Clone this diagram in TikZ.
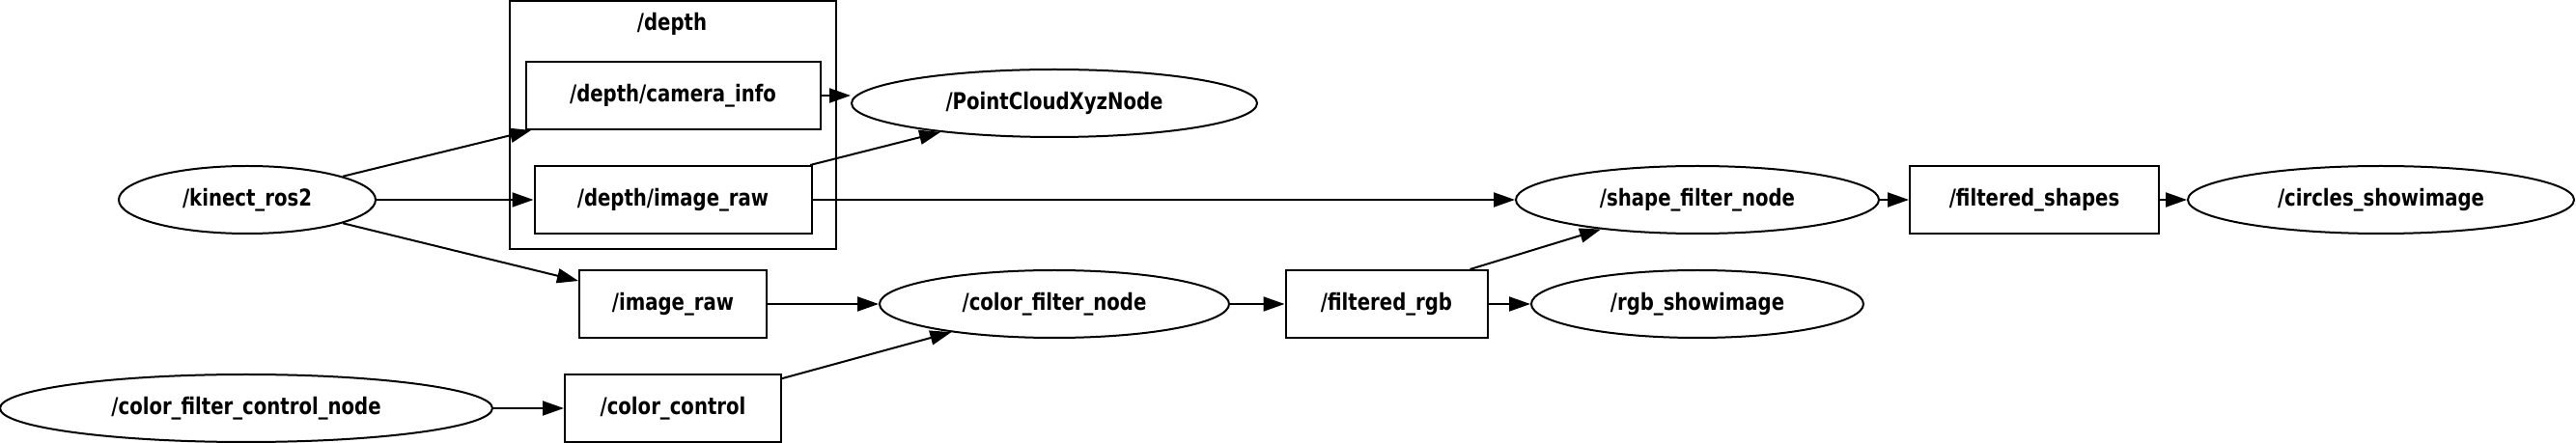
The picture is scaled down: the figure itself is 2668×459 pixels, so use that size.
\documentclass[tikz,border=0pt]{standalone}
\usepackage{fontspec}
\setmainfont{DejaVu Sans}[FakeStretch=0.82]
\usetikzlibrary{arrows.meta,shapes.geometric}

\tikzset{
  topic/.style={draw,line width=1pt,rectangle,inner sep=0pt,minimum height=35pt},
  rosnode/.style={draw,line width=1pt,ellipse,inner sep=0pt,minimum height=35pt},
  link/.style={line width=1pt,-{Triangle[length=11pt,width=7.5pt]}}
}

\begin{document}
\begin{tikzpicture}[x=0.5pt,y=-0.5pt,font=\fontsize{12}{14}\selectfont\bfseries]
\useasboundingbox (0,0) rectangle (2668,459);
% --- /depth cluster ---
\draw[line width=1pt] (528,1) rectangle (866,258);
\node (depthlbl) at (696,25) {/depth};
\node[topic,minimum width=152.5pt] (depthinfo) at (697,99) {/depth/camera\_info};
\node[topic,minimum width=143.5pt] (depthraw) at (697,207) {/depth/image\_raw};
% --- sources ---
\node[rosnode,minimum width=133pt] (kinect) at (256,207) {/kinect\_ros2};
\node[rosnode,minimum width=255pt] (ctlnode) at (255,423) {/color\_filter\_control\_node};
\node[topic,minimum width=97pt] (imageraw) at (697,315) {/image\_raw};
\node[topic,minimum width=112pt] (colorctl) at (697,423) {/color\_control};
% --- middle ---
\node[rosnode,minimum width=210pt] (pcxyz) at (1092,107) {/PointCloudXyzNode};
\node[rosnode,minimum width=181pt] (colorfilter) at (1092,315) {/color\_filter\_node};
\node[topic,minimum width=104.5pt] (filteredrgb) at (1436,315) {/filtered\_rgb};
% --- right ---
\node[rosnode,minimum width=188pt] (shapefilter) at (1758,207) {/shape\_filter\_node};
\node[rosnode,minimum width=172pt] (rgbshow) at (1758,315) {/rgb\_showimage};
\node[topic,minimum width=129pt] (filteredshapes) at (2107,207) {/filtered\_shapes};
\node[rosnode,minimum width=200pt] (circles) at (2466,207) {/circles\_showimage};
% --- edges ---
\draw[link] (kinect) -- (depthinfo);
\draw[link] (kinect) -- (depthraw);
\draw[link] (kinect) -- (imageraw);
\draw[link] (depthinfo.east) -- (pcxyz.west |- depthinfo.east);
\draw[link] (depthraw) -- (pcxyz);
\draw[link] (depthraw) -- (shapefilter);
\draw[link] (imageraw) -- (colorfilter);
\draw[link] (ctlnode) -- (colorctl);
\draw[link] (colorctl) -- (colorfilter);
\draw[link] (colorfilter) -- (filteredrgb);
\draw[link] ([xshift=-9.5pt]filteredrgb.north east) -- (shapefilter);
\draw[link] (filteredrgb) -- (rgbshow);
\draw[link] (shapefilter) -- (filteredshapes);
\draw[link] (filteredshapes) -- (circles);
\end{tikzpicture}
\end{document}
